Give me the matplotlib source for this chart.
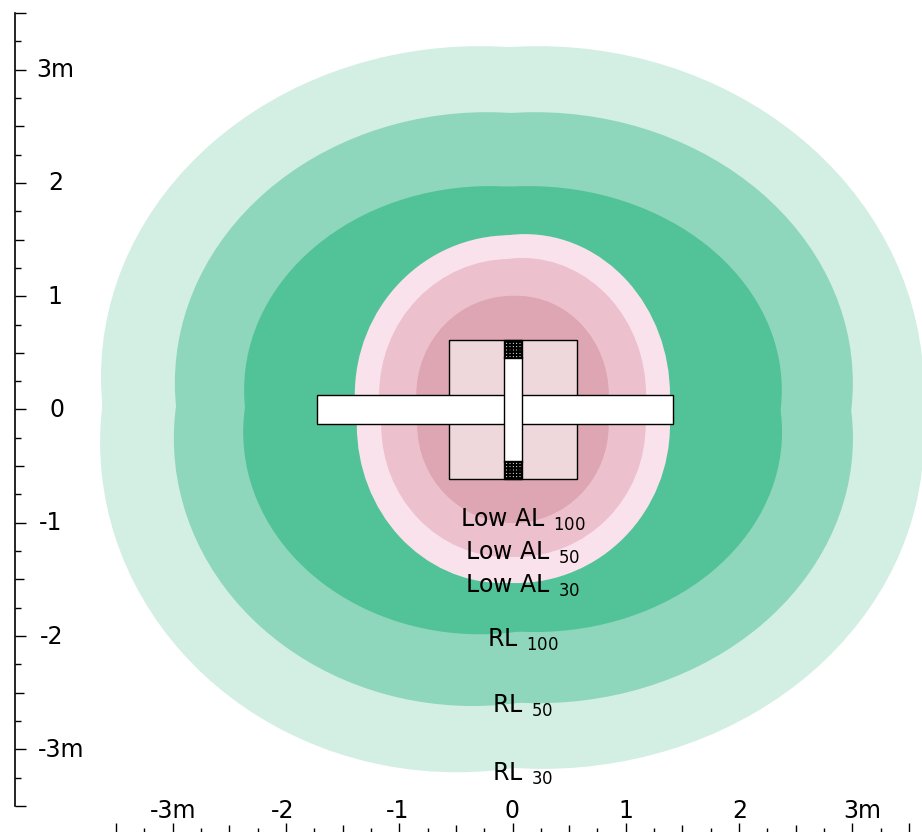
import matplotlib
matplotlib.use('Agg')
import matplotlib.pyplot as plt
from matplotlib.patches import Ellipse, Rectangle
from matplotlib.transforms import ScaledTranslation

# lobes of each contour, metres: centre x, centre y, full width, full height
rl30 = [(-0.287, 0.287, 6.69, 5.84), (0.225, 0.172, 6.81, 6.07),
        (-0.490, -0.287, 6.30, 5.83), (0.260, -0.252, 6.74, 5.84)]
rl50 = [(-0.225, 0.234, 5.51, 4.78), (0.199, 0.234, 5.61, 4.78),
        (-0.349, -0.252, 5.28, 4.73), (0.225, -0.252, 5.56, 4.68)]
rl100 = [(-0.199, 0.172, 4.34, 3.60), (0.137, 0.172, 4.48, 3.60),
         (-0.287, -0.199, 4.18, 3.57), (0.199, -0.199, 4.36, 3.53)]
al30 = [(-0.022, 0.128, 2.74, 2.82), (0.110, 0.128, 2.56, 2.84),
        (-0.084, -0.137, 2.58, 2.79), (0.030, -0.137, 2.72, 2.79)]
al50 = [(-0.022, 0.128, 2.31, 2.40), (0.084, 0.128, 2.19, 2.42),
        (-0.049, -0.137, 2.22, 2.33), (0.030, -0.137, 2.29, 2.33)]
al100 = [(-0.004, 0.128, 1.69, 1.75), (0.040, 0.128, 1.62, 1.75),
         (0.004, -0.137, 1.69, 1.73)]

contours = [rl30, rl50, rl100, al30, al50, al100]
contour_colors = ['#d3efe3', '#8fd7bc', '#52c398', '#f9e2ec', '#ecc0cd', '#dea5b3']

labels = ['Low AL $\\hspace{0.08}_{100}$', 'Low AL $\\hspace{0.08}_{50}$', 'Low AL $\\hspace{0.08}_{30}$',
          'RL $\\hspace{0.08}_{100}$', 'RL $\\hspace{0.08}_{50}$', 'RL $\\hspace{0.08}_{30}$']
label_x = [0.093, 0.093, 0.093, 0.093, 0.088, 0.088]
label_y = [-0.97, -1.27, -1.56, -2.03, -2.62, -3.22]

major = [-3.5, -3, -2, -1, 0, 1, 2, 3, 3.5]
major_labels = ['', '-3m', '-2', '-1', '0', '1', '2', '3m', '']
half = [-2.5, -1.5, -0.5, 0.5, 1.5, 2.5]
quarter = [-3.25, -2.75, -2.25, -1.75, -1.25, -0.75, -0.25, 0.25, 0.75, 1.25, 1.75, 2.25, 2.75, 3.25]

W, H = 922, 832
S = 113.3
X0, Y0 = 512.5, 409.5
LEFT, BOTTOM = 15, 834

fig = plt.figure(figsize=(W / 100, H / 100), dpi=100)
ax = fig.add_axes([LEFT / W, (H - BOTTOM) / H, (W - LEFT) / W, BOTTOM / H])
ax.set_xlim((LEFT - X0) / S, (W - X0) / S)
ax.set_ylim((Y0 - BOTTOM) / S, Y0 / S)

for lobes, col in zip(contours, contour_colors):
    for cx, cy, w, h in lobes:
        ax.add_patch(Ellipse((cx, cy), w, h, fc=col, ec='none', zorder=1))

# plan view of the aircraft
ax.add_patch(Rectangle((-0.56, -0.61), 1.13, 1.22, fc='#eed8dc', ec='black', lw=1, zorder=2))
ax.add_patch(Rectangle((-1.725, -0.13), 3.14, 0.26, fc='white', ec='black', lw=1, zorder=3))
ax.add_patch(Rectangle((-0.075, -0.46), 0.155, 0.92, fc='white', ec='black', lw=1, zorder=4))
plt.rcParams['hatch.linewidth'] = 1.6
ax.add_patch(Rectangle((-0.075, 0.455), 0.155, 0.155, fc='white', ec='black', hatch='+++++', lw=1, zorder=4))
ax.add_patch(Rectangle((-0.075, -0.61), 0.155, 0.155, fc='white', ec='black', hatch='+++++', lw=1, zorder=4))

for s, x, y in zip(labels, label_x, label_y):
    ax.text(x, y, s, ha='center', va='center', fontsize=17, color='black', zorder=5)

for sp in ['top', 'right']:
    ax.spines[sp].set_visible(False)
ax.spines['left'].set_bounds(-3.5, 3.5)
ax.spines['bottom'].set_bounds(-3.5, 3.5)
ax.spines['left'].set_linewidth(1.2)
ax.spines['bottom'].set_linewidth(1.2)

ax.set_xticks(major, major_labels)
ax.set_yticks(major, major_labels)
ax.set_xticks(half + quarter, minor=True)
ax.set_yticks(half + quarter, minor=True)
ax.tick_params(which='major', direction='in', length=8, width=1, labelsize=17)
ax.tick_params(which='minor', direction='in', length=4.5, width=1)
ax.tick_params(axis='x', which='major', pad=-25)
ax.tick_params(axis='y', which='major', pad=-29)

for axis in (ax.xaxis, ax.yaxis):
    for t, v in zip(axis.get_minor_ticks(), half + quarter):
        if v in half:
            t.tick1line.set_markersize(6.8)

y_shift = {'3m': 0, '2': 0, '1': 0, '0': 2, '-1': -5, '-2': -4, '-3m': 6, '': 0}
for lbl, s in zip(ax.get_yticklabels(), major_labels):
    lbl.set_ha('center')
    lbl.set_transform(lbl.get_transform() + ScaledTranslation(y_shift[s] / 100, 2 / 100, fig.dpi_scale_trans))
x_shift = {'3m': 10, '-3m': 1, '-2': -3, '-1': -2, '0': 0, '1': 0, '2': 1, '': 0}
for lbl, s in zip(ax.get_xticklabels(), major_labels):
    lbl.set_transform(lbl.get_transform() + ScaledTranslation(x_shift[s] / 100, 0, fig.dpi_scale_trans))

fig.savefig('out.png', dpi=100)
